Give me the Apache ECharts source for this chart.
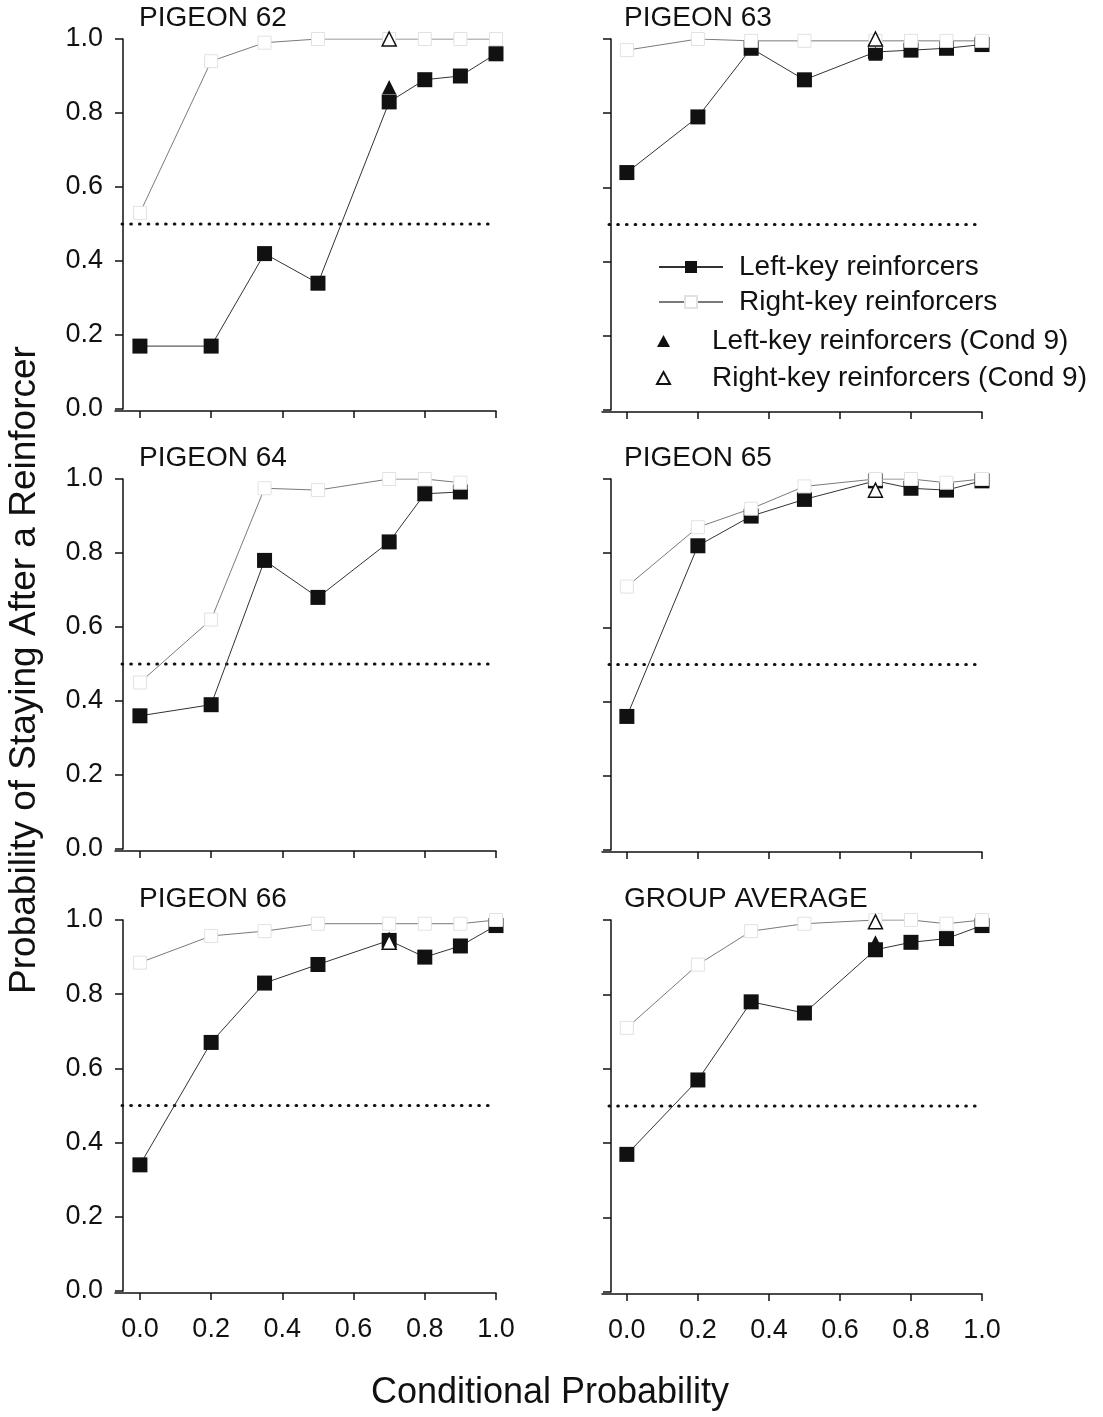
<!DOCTYPE html>
<html>
<head>
<meta charset="utf-8">
<title>Probability of Staying After a Reinforcer</title>
<script src="https://cdn.jsdelivr.net/npm/echarts@6.0.0/dist/echarts.min.js"></script>
<style>
    html, body { margin: 0; padding: 0; background: #fff; }
    #main { width: 1103px; height: 1417px; }
</style>
</head>
<body>
<div id="main"></div>
<script>
// 横轴: 条件概率 (所有小图共用)
var condProb = [0, 0.2, 0.35, 0.5, 0.7, 0.8, 0.9, 1.0];
var xTicks = [0, 0.2, 0.4, 0.6, 0.8, 1.0];
var panelTitles = ['PIGEON 62', 'PIGEON 63', 'PIGEON 64', 'PIGEON 65', 'PIGEON 66', 'GROUP AVERAGE'];

// Left-key reinforcers
var left62 = [0.17, 0.17, 0.42, 0.34, 0.83, 0.89, 0.90, 0.96];
var left63 = [0.64, 0.79, 0.975, 0.89, 0.965, 0.97, 0.975, 0.985];
var left64 = [0.36, 0.39, 0.78, 0.68, 0.83, 0.96, 0.965, null];
var left65 = [0.36, 0.82, 0.90, 0.945, 0.995, 0.975, 0.97, 0.995];
var left66 = [0.34, 0.67, 0.83, 0.88, 0.945, 0.90, 0.93, 0.985];
var leftAvg = [0.37, 0.57, 0.78, 0.75, 0.92, 0.94, 0.95, 0.985];

// Right-key reinforcers
var right62 = [0.53, 0.94, 0.99, 1.0, 1.0, 1.0, 1.0, 1.0];
var right63 = [0.97, 1.0, 0.995, 0.995, 0.995, 0.995, 0.995, 0.995];
var right64 = [0.45, 0.62, 0.975, 0.97, 1.0, 1.0, 0.99, null];
var right65 = [0.71, 0.87, 0.92, 0.98, 1.0, 1.0, 0.99, 1.0];
var right66 = [0.885, 0.957, 0.97, 0.99, 0.99, 0.99, 0.99, 1.0];
var rightAvg = [0.71, 0.88, 0.97, 0.99, 1.0, 1.0, 0.99, 1.0];

// Cond 9 (只在 p = 0.7 处)
var cond9X = 0.7;
var cond9Left = [0.87, 0.96, null, 0.97, 0.95, 0.94];
var cond9Right = [1.0, 1.0, null, 0.97, 0.94, 0.995];

// 0.5 机会水平虚线
var chanceLevel = 0.5;
var chanceRange = [-0.05, 1.0];

var leftData = [left62, left63, left64, left65, left66, leftAvg];
var rightData = [right62, right63, right64, right65, right66, rightAvg];

var FONT = '"Liberation Sans", Arial, Helvetica, sans-serif';
var INK = '#111';

var chart = echarts.init(document.getElementById('main'));

// 六个网格 (3 行 x 2 列)
var gridBoxes = [
    { left: 115, top: 39,  width: 381, height: 370 },
    { left: 602, top: 39,  width: 380, height: 371 },
    { left: 115, top: 479, width: 381, height: 370 },
    { left: 602, top: 479, width: 380, height: 371 },
    { left: 115, top: 920, width: 381, height: 371 },
    { left: 602, top: 920, width: 380, height: 372 }
];

function pairs(xs, ys) {
    var out = [];
    for (var i = 0; i < xs.length; i++) {
        if (ys[i] !== null) out.push([xs[i], ys[i]]);
    }
    return out;
}

var grids = [], xAxes = [], yAxes = [], series = [], titles = [];

for (var p = 0; p < 6; p++) {
    var isLeft = p % 2 === 0;
    var isBottom = p >= 4;
    grids.push(gridBoxes[p]);

    titles.push({
        text: panelTitles[p],
        left: isLeft ? 139 : 624,
        top: gridBoxes[p].top - 35,
        padding: 0,
        textStyle: { fontFamily: FONT, fontSize: 28, fontWeight: 'normal', color: INK }
    });

    xAxes.push({
        type: 'value',
        gridIndex: p,
        min: -0.07,
        max: 1.0,
        offset: 2,
        axisLine: { onZero: false, lineStyle: { color: INK, width: 1.5 } },
        axisTick: { show: true, length: 7, customValues: xTicks, lineStyle: { color: INK, width: 1.5 } },
        axisLabel: {
            show: isBottom,
            customValues: xTicks,
            margin: 23,
            fontFamily: FONT,
            fontSize: 27,
            color: INK,
            formatter: function (v) { return v.toFixed(1); }
        },
        splitLine: { show: false }
    });

    yAxes.push({
        type: 'value',
        gridIndex: p,
        min: 0,
        max: 1,
        interval: 0.2,
        offset: isLeft ? -8 : -9,
        axisLine: { show: true, onZero: false, lineStyle: { color: INK, width: 1.5 } },
        axisTick: { show: true, length: 8, lineStyle: { color: INK, width: 1.5 } },
        axisLabel: {
            show: isLeft,
            margin: 20,
            fontFamily: FONT,
            fontSize: 27,
            color: INK,
            formatter: function (v) { return v.toFixed(1); }
        },
        splitLine: { show: false }
    });

    // 0.5 虚线
    series.push({
        type: 'line',
        xAxisIndex: p,
        yAxisIndex: p,
        silent: true,
        symbol: 'none',
        data: [[chanceRange[0], chanceLevel], [chanceRange[1], chanceLevel]],
        lineStyle: { color: INK, width: 3.2, type: [0.5, 8.2], cap: 'round' },
        z: 1
    });

    series.push({
        name: 'Left-key reinforcers',
        type: 'line',
        xAxisIndex: p,
        yAxisIndex: p,
        data: pairs(condProb, leftData[p]),
        symbol: 'rect',
        symbolSize: 15,
        itemStyle: { color: INK, opacity: 1 },
        lineStyle: { color: '#333', width: 1 },
        z: 2
    });

    series.push({
        name: 'Right-key reinforcers',
        type: 'line',
        xAxisIndex: p,
        yAxisIndex: p,
        data: pairs(condProb, rightData[p]),
        symbol: 'rect',
        symbolSize: 13,
        itemStyle: { color: '#fff', borderColor: '#e2e2e2', borderWidth: 1, opacity: 1 },
        lineStyle: { color: '#7a7a7a', width: 1 },
        z: 3
    });

    if (cond9Left[p] !== null) {
        series.push({
            name: 'Left-key reinforcers (Cond 9)',
            type: 'scatter',
            xAxisIndex: p,
            yAxisIndex: p,
            data: [[cond9X, cond9Left[p]]],
            symbol: 'triangle',
            symbolSize: 14,
            itemStyle: { color: INK, opacity: 1 },
            z: 4
        });
    }
    if (cond9Right[p] !== null) {
        series.push({
            name: 'Right-key reinforcers (Cond 9)',
            type: 'scatter',
            xAxisIndex: p,
            yAxisIndex: p,
            data: [[cond9X, cond9Right[p]]],
            symbol: 'triangle',
            symbolSize: 14,
            itemStyle: { color: '#fff', borderColor: INK, borderWidth: 1.5, opacity: 1 },
            z: 5
        });
    }
}

var option = {
    animation: false,
    backgroundColor: '#fff',
    title: titles,
    grid: grids,
    xAxis: xAxes,
    yAxis: yAxes,
    // 图例 (放在 PIGEON 63 里)
    legend: [
        {
            orient: 'vertical',
            left: 658,
            top: 252,
            padding: 0,
            itemGap: 5,
            itemWidth: 64,
            itemHeight: 15,
            selectedMode: false,
            data: ['Left-key reinforcers', 'Right-key reinforcers'],
            textStyle: { fontFamily: FONT, fontSize: 28, color: INK, lineHeight: 30, padding: [0, 0, 0, 11] }
        },
        {
            orient: 'vertical',
            left: 656,
            top: 326,
            padding: 0,
            itemGap: 7,
            itemWidth: 13,
            itemHeight: 12,
            selectedMode: false,
            data: ['Left-key reinforcers (Cond 9)', 'Right-key reinforcers (Cond 9)'],
            textStyle: { fontFamily: FONT, fontSize: 28, color: INK, lineHeight: 30, padding: [0, 0, 0, 37] }
        }
    ],
    // 共用的坐标轴标题
    graphic: [
        {
            type: 'text',
            x: 25,
            y: 670,
            rotation: Math.PI / 2,
            style: {
                text: 'Probability of Staying After a Reinforcer',
                font: '37px ' + FONT,
                fill: INK,
                align: 'center',
                verticalAlign: 'middle'
            }
        },
        {
            type: 'text',
            x: 550,
            y: 1393,
            style: {
                text: 'Conditional Probability',
                font: '36px ' + FONT,
                fill: INK,
                align: 'center',
                verticalAlign: 'middle'
            }
        }
    ],
    series: series
};

chart.setOption(option);
</script>
</body>
</html>
